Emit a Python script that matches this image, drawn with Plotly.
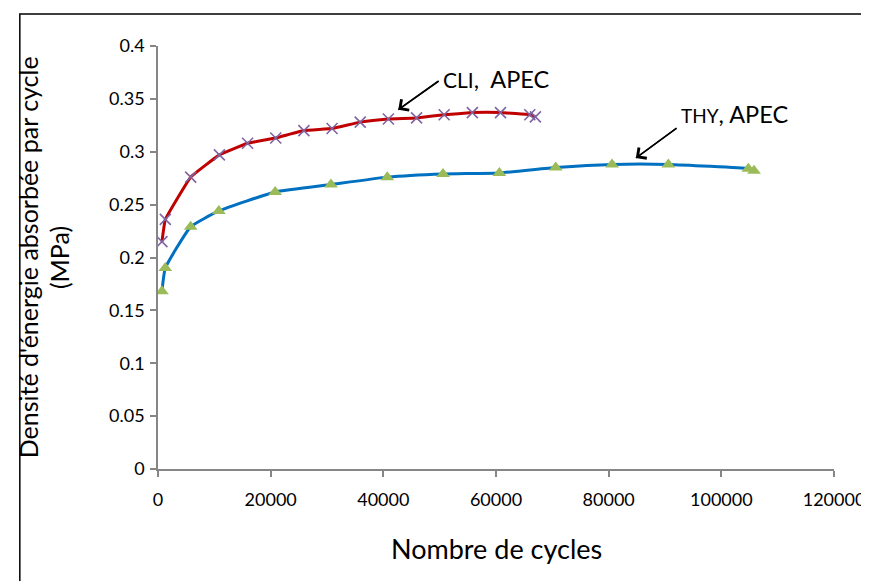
import plotly.graph_objects as go

# ---- data ----
cli_cycles = [700, 1300, 5800, 10900, 15900, 20900, 25900, 30900, 35900, 40900,
              45900, 50800, 55800, 60800, 66000, 67000]
cli_energy = [0.215, 0.236, 0.276, 0.297, 0.308, 0.313, 0.320, 0.322, 0.328, 0.331,
              0.332, 0.335, 0.337, 0.337, 0.335, 0.333]

thy_cycles = [700, 1300, 5800, 10800, 20800, 30700, 40700, 50600, 60600, 70600,
              80600, 90600, 104800, 105800]
thy_energy = [0.168, 0.190, 0.229, 0.244, 0.262, 0.269, 0.276, 0.279, 0.280, 0.285,
              0.288, 0.288, 0.284, 0.282]

x_ticks = [0, 20000, 40000, 60000, 80000, 100000, 120000]
y_ticks = [0, 0.05, 0.1, 0.15, 0.2, 0.25, 0.3, 0.35, 0.4]
y_ticklabels = ["0", "0.05", "0.1", "0.15", "0.2", "0.25", "0.3", "0.35", "0.4"]

# annotation arrows: (head x, head y, tail x, tail y) in data units
cli_arrow = (42650, 0.3398, 49700, 0.3666)
thy_arrow = (84830, 0.2941, 92070, 0.3225)

FONT = "Lato, 'Open Sans', sans-serif"

fig = go.Figure()

fig.add_trace(go.Scatter(
    x=thy_cycles, y=thy_energy, mode="lines+markers", name="THY, APEC",
    line=dict(color="#0070C0", width=3, shape="spline", smoothing=0.4),
    marker=dict(symbol="triangle-up", size=12, color="#9BBB59",
                line=dict(width=0)),
))
fig.add_trace(go.Scatter(
    x=cli_cycles, y=cli_energy, mode="lines+markers", name="CLI, APEC",
    line=dict(color="#C00000", width=3, shape="spline", smoothing=0.25),
    marker=dict(symbol="x-thin", size=11, color="#8064A2",
                line=dict(width=1.6, color="#8064A2")),
))

arrow_common = dict(xref="x", yref="y", text="",
                    showarrow=True, arrowhead=4, arrowsize=1.6, arrowwidth=1.6,
                    arrowcolor="black", standoff=0, startstandoff=0,
                    width=1, height=1, borderpad=0, borderwidth=0,
                    font=dict(size=1))

annotations = [
    dict(x=cli_arrow[0], y=cli_arrow[1], ax=41, ay=-29, **arrow_common),
    dict(x=50200, y=0.3685, xref="x", yref="y", xanchor="left", yanchor="middle",
         text="<span style='font-size:21px'>CLI</span>,&nbsp; APEC", showarrow=False,
         font=dict(family=FONT, size=23.5, color="black")),
    dict(x=thy_arrow[0], y=thy_arrow[1], ax=41, ay=-30, **arrow_common),
    dict(x=92500, y=0.3358, xref="x", yref="y", xanchor="left", yanchor="middle",
         text="<span style='font-size:19px'>THY</span>, APEC", showarrow=False,
         font=dict(family=FONT, size=23.5, color="black")),
    # y axis title (two lines)
    dict(x=(19 - 150) / 680, y=0.5, xref="paper", yref="paper", xanchor="center",
         yanchor="middle", textangle=-90, showarrow=False,
         text="Densité d'énergie absorbée par cycle",
         font=dict(family=FONT, size=25, color="black")),
    dict(x=(50 - 150) / 680, y=0.5, xref="paper", yref="paper", xanchor="center",
         yanchor="middle", textangle=-90, showarrow=False,
         text="(MPa)",
         font=dict(family=FONT, size=25, color="black")),
    # x axis title
    dict(x=0.5, y=-0.187, xref="paper", yref="paper", xanchor="center",
         yanchor="middle", showarrow=False, text="Nombre de cycles",
         font=dict(family=FONT, size=27, color="black")),
]

shapes = [dict(type="rect", xref="paper", yref="paper",
               x0=-0.2044, x1=1.3, y0=-0.6, y1=1.0757,
               line=dict(color="black", width=1.5), fillcolor="rgba(0,0,0,0)",
               layer="below")]
for hx, hy, tx, ty in (cli_arrow, thy_arrow):
    shapes.append(dict(type="line", xref="x", yref="y", x0=tx, y0=ty, x1=hx, y1=hy,
                       line=dict(color="black", width=1.4)))

fig.update_layout(
    width=869, height=581,
    margin=dict(l=150, r=39, t=38, b=120),
    paper_bgcolor="white", plot_bgcolor="white",
    showlegend=False,
    font=dict(family=FONT, size=18, color="black"),
    annotations=annotations,
    shapes=shapes,
    xaxis=dict(range=[0, 120000], tickvals=x_ticks, tickformat="d",
               showgrid=False, zeroline=False, showline=True,
               linecolor="#868686", linewidth=1.5, ticks="outside",
               ticklen=6, tickcolor="#868686", tickwidth=1.5,
               ticklabelstandoff=8,
               tickfont=dict(family=FONT, size=18)),
    yaxis=dict(range=[0, 0.4], tickvals=y_ticks, ticktext=y_ticklabels,
               showgrid=False, zeroline=False, showline=True,
               linecolor="#868686", linewidth=1.5, ticks="outside",
               ticklen=6, tickcolor="#868686", tickwidth=1.5,
               ticklabelstandoff=2,
               tickfont=dict(family=FONT, size=18)),
)

fig.write_html("out.html")
